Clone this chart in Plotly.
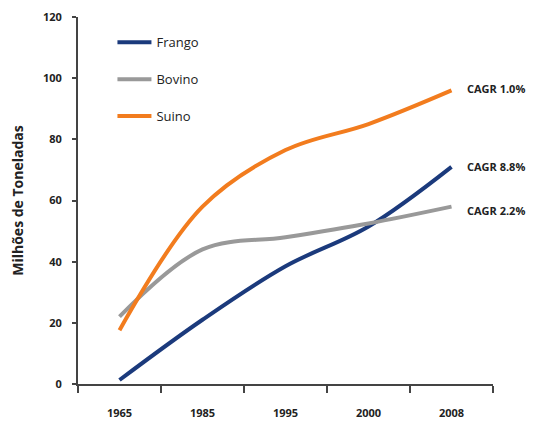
import plotly.graph_objects as go

years = ["1965", "1985", "1995", "2000", "2008"]
frango = [1.3, 21, 38.5, 51.5, 71]
bovino = [22, 44, 48, 52.5, 58]
suino = [17.6, 58, 76.5, 85, 96]
cagr_labels = {"Frango": "CAGR 8.8%", "Bovino": "CAGR 2.2%", "Suino": "CAGR 1.0%"}

series = [
    ("Frango", frango, "#1b3a7c"),
    ("Bovino", bovino, "#999999"),
    ("Suino", suino, "#f27c1e"),
]

FONT = "Open Sans"
fig = go.Figure()
for i, (name, vals, col) in enumerate(series):
    fig.add_trace(go.Scatter(
        x=years, y=vals, name=name, mode="lines",
        line=dict(color=col, width=4, shape="spline", smoothing=1.0),
        legendgroup=name,
    ))

shifts = {"Frango": 0, "Bovino": -4, "Suino": 2}
for name, vals, col in series:
    fig.add_annotation(
        xref="x", yref="y",
        x=len(years) - 1, y=vals[-1], text=cagr_labels[name], showarrow=False,
        xanchor="left", xshift=13, yshift=shifts[name],
        font=dict(family=FONT, size=11, color="#222222", weight="bold"),
    )

fig.update_layout(
    width=537, height=421,
    margin=dict(l=70, r=52, t=9, b=45, autoexpand=False),
    paper_bgcolor="white", plot_bgcolor="white",
    font=dict(family=FONT, color="#222222"),
    legend=dict(
        x=0.083, y=0.972, xanchor="left", yanchor="top",
        bgcolor="rgba(0,0,0,0)", tracegroupgap=17, itemwidth=34,
        font=dict(family=FONT, size=13, color="#222222"),
    ),
    xaxis=dict(
        type="category", range=[-0.5, 4.5], tickson="boundaries",
        automargin=False,
        showline=True, linecolor="#444444", linewidth=2,
        ticks="outside", ticklen=7, tickcolor="#444444", tickwidth=2,
        ticklabelstandoff=18,
        showgrid=False, zeroline=False,
        tickfont=dict(family=FONT, size=11, color="#222222", weight="bold"),
    ),
    yaxis=dict(
        range=[0, 120], dtick=20,
        automargin=False,
        showline=True, linecolor="#444444", linewidth=2,
        ticks="outside", ticklen=4, tickcolor="#444444", tickwidth=2,
        ticklabelstandoff=8,
        showgrid=False, zeroline=False,
        tickfont=dict(family=FONT, size=11, color="#222222", weight="bold"),
        title=dict(text="Milhões de Toneladas", standoff=16,
                   font=dict(family=FONT, size=14, color="#222222", weight="bold")),
    ),
)

fig.write_html("out.html")
